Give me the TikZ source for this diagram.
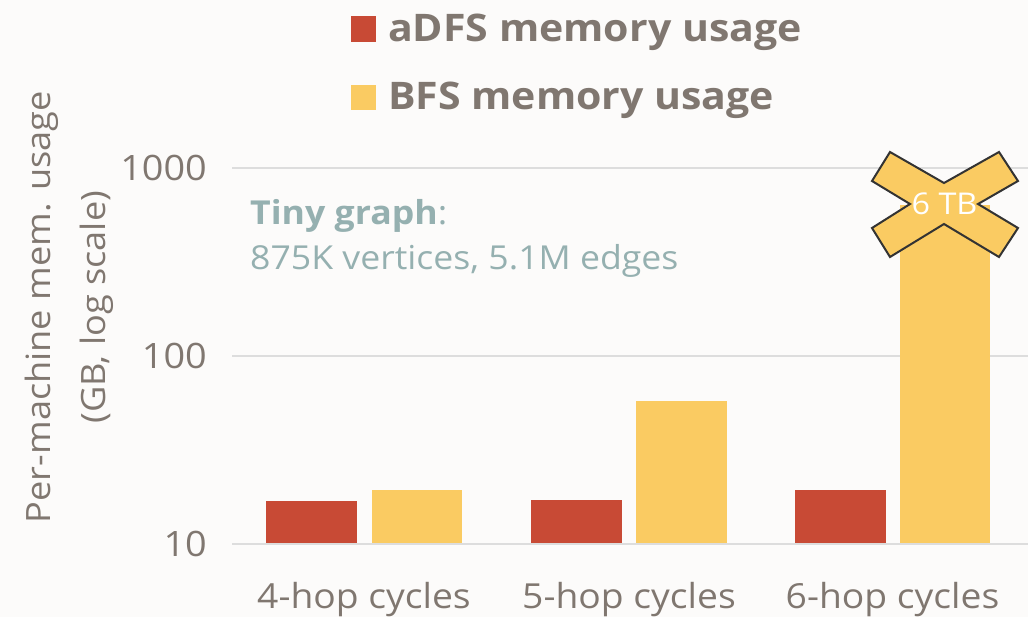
\documentclass[tikz,border=0pt]{standalone}
\usepackage{fontspec}
\setmainfont{Open Sans}[FakeStretch=1.08]
\definecolor{PageBg}{RGB}{252, 251, 250}
\definecolor{DfsRed}{RGB}{200, 74, 53}
\definecolor{BfsYellow}{RGB}{250, 203, 98}
\definecolor{AxisGray}{RGB}{128, 119, 112}
\definecolor{NoteTeal}{RGB}{149, 176, 176}
\definecolor{GridGray}{RGB}{221, 221, 221}
\definecolor{CrossEdge}{RGB}{51, 51, 51}
\usetikzlibrary{positioning}

\begin{document}
\begin{tikzpicture}[x=1pt, y=-1pt, every node/.style={text=AxisGray, inner sep=0pt}]
    \fill[PageBg] (0,0) rectangle (1028,617);
    \useasboundingbox (0,0) rectangle (1028,617);

    % grid and tick labels
    \foreach \gy/\glab in {168/1000, 356/100, 544/10} {
        \draw[GridGray, line width=2pt] (232,\gy) -- (1028,\gy);
        \node[anchor=east, font=\fontsize{35}{38}\selectfont] (tick\glab) at (207,\gy) {\glab};
    }

    % bars
    \fill[DfsRed] (266,501) rectangle (357,543);
    \fill[BfsYellow] (372,490) rectangle (462,543);
    \fill[DfsRed] (531,500) rectangle (622,543);
    \fill[BfsYellow] (636,401) rectangle (727,543);
    \fill[DfsRed] (795,490) rectangle (886,543);
    \fill[BfsYellow] (900,205) rectangle (990,543);

    % crossed-out value
    \filldraw[fill=BfsYellow, draw=CrossEdge, line width=2pt, line join=miter]
        (890,152) -- (944,183) -- (999,152) -- (1018,181) -- (978,204) -- (1018,228)
        -- (999,257) -- (944,224) -- (890,257) -- (872,228) -- (910,204) -- (872,181) -- cycle;
    \node[text=white, font=\fontsize{30}{32}\selectfont] (sixtb) at (944.5,204) {6 TB};

    % category labels
    \node[anchor=base, font=\fontsize{34.5}{36}\selectfont] (hop4) at (364,608) {4-hop cycles};
    \node[anchor=base, font=\fontsize{34.5}{36}\selectfont] (hop5) at (629,608) {5-hop cycles};
    \node[anchor=base, font=\fontsize{34.5}{36}\selectfont] (hop6) at (892.5,608) {6-hop cycles};

    % axis title
    \node[anchor=north, rotate=90, align=center, font=\fontsize{33.5}{55}\selectfont] (ytitle) at (25,307)
        {Per-machine mem. usage\\(GB, log scale)};

    % note
    \node[anchor=base west, text=NoteTeal, font=\fontsize{33}{36}\selectfont] (note) at (250,225) {\textbf{Tiny graph}:};
    \node[anchor=base west, text=NoteTeal, font=\fontsize{33}{36}\selectfont] (notesize) at (250,270) {875K vertices, 5.1M edges};

    % legend
    \fill[DfsRed] (351,16) rectangle (376,42);
    \node[anchor=base west, font=\bfseries\fontsize{38}{40}\selectfont] (legdfs) at (388,42) {aDFS memory usage};
    \fill[BfsYellow] (351,85) rectangle (376,110);
    \node[anchor=base west, font=\bfseries\fontsize{38}{40}\selectfont] (legbfs) at (388,110) {BFS memory usage};
\end{tikzpicture}
\end{document}
